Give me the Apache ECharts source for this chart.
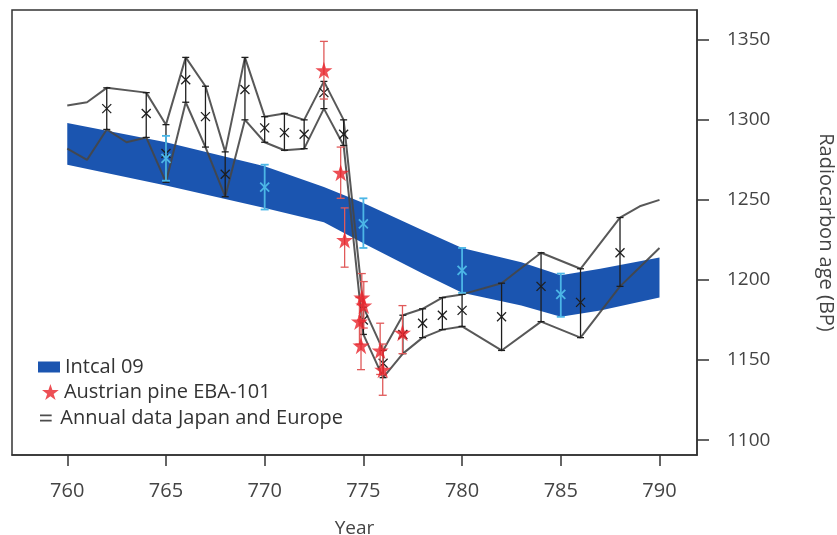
<!DOCTYPE html>
<html><head><meta charset="utf-8">
<script src="https://cdn.jsdelivr.net/npm/echarts@6/dist/echarts.min.js"></script>
<style>html,body{margin:0;padding:0;background:#fff}#c{width:837px;height:535px}</style>
</head><body><div id="c"></div>
<script>
// ---- tick labels ----
const xTicks = [760, 765, 770, 775, 780, 785, 790];
const yTicks = [1100, 1150, 1200, 1250, 1300, 1350];

// ---- Intcal 09 band ----
const bandYears = [760, 765, 770, 773, 775, 778, 780, 783, 785, 787, 790];
const bandUpper = [1298, 1286, 1271, 1258, 1248, 1231, 1220, 1211, 1203, 1207, 1214];
const bandLower = [1272, 1259, 1245, 1236, 1223, 1204, 1192, 1184, 1177, 1181, 1189];

// ---- Intcal 09 points (cyan) ----
const intcalYears = [765, 770, 775, 780, 785];
const intcalMid   = [1276, 1258, 1235, 1206, 1191];
const intcalLow   = [1262, 1244, 1220, 1192, 1177];
const intcalHigh  = [1290, 1272, 1251, 1220, 1204];

// ---- Annual data Japan and Europe: envelope lines ----
const upperYears = [760, 761, 762, 764, 765, 766, 767, 768, 769, 770, 771, 772, 773, 774, 775, 776, 777, 778, 779, 780, 782, 784, 786, 788, 789, 790];
const upperVals  = [1309, 1311, 1320, 1317, 1297, 1339, 1321, 1280, 1339, 1302, 1304, 1300, 1324, 1300, 1183, 1156, 1178, 1182, 1189, 1191, 1198, 1217, 1207, 1239, 1246, 1250];
const lowerYears = [760, 761, 762, 763, 764, 765, 766, 767, 768, 769, 770, 771, 772, 773, 774, 775, 776, 777, 778, 779, 780, 782, 784, 786, 788, 789, 790];
const lowerVals  = [1282, 1275, 1294, 1286, 1289, 1261, 1311, 1283, 1252, 1300, 1286, 1281, 1282, 1307, 1284, 1166, 1139, 1154, 1164, 1169, 1171, 1156, 1174, 1164, 1196, 1208, 1220];

// ---- Annual data: error bars with X markers ----
const annualYears = [762, 764, 765, 766, 767, 768, 769, 770, 771, 772, 773, 774, 775, 776, 777, 778, 779, 780, 782, 784, 786, 788];
const annualMid   = [1307, 1304, 1279, 1325, 1302, 1266, 1319, 1295, 1292, 1291, 1317, 1291, 1175, 1148, 1166, 1173, 1178, 1181, 1177, 1196, 1186, 1217];
const annualLow   = [1294, 1289, 1261, 1311, 1283, 1252, 1300, 1286, 1281, 1282, 1307, 1284, 1166, 1139, 1154, 1164, 1169, 1171, 1156, 1174, 1164, 1196];
const annualHigh  = [1320, 1317, 1297, 1339, 1321, 1280, 1339, 1302, 1304, 1300, 1324, 1300, 1183, 1156, 1178, 1182, 1189, 1191, 1198, 1217, 1207, 1239];

// ---- Austrian pine EBA-101 (red stars) ----
const pineYears = [773.0, 773.85, 774.05, 774.8, 774.92, 775.02, 774.88, 775.85, 775.98, 776.98];
const pineVals  = [1331, 1267, 1225, 1174, 1189, 1184, 1159, 1156, 1144, 1167];
const pineLow   = [1313, 1251, 1208, 1160, 1174, 1170, 1144, 1141, 1128, 1154];
const pineHigh  = [1349, 1283, 1245, 1189, 1204, 1199, 1175, 1173, 1160, 1184];

const FONT = 'Open Sans';
const BLUE = '#1b55b0';
const CYAN = '#4cb6e6';
const RED = '#e8232b';
const STAR = 'path://M50,0L61.2,34.5L97.6,34.5L68.2,55.9L79.4,90.5L50,69.1L20.6,90.5L31.8,55.9L2.4,34.5L38.8,34.5Z';

function errorBarRender(color, width, cap, withX) {
  return function (params, api) {
    const x = api.value(0);
    const lo = api.coord([x, api.value(1)]);
    const hi = api.coord([x, api.value(2)]);
    const mid = api.coord([x, api.value(3)]);
    const st = { stroke: color, lineWidth: width };
    const ch = [
      { type: 'line', shape: { x1: lo[0], y1: lo[1], x2: hi[0], y2: hi[1] }, style: st },
      { type: 'line', shape: { x1: lo[0] - cap, y1: lo[1], x2: lo[0] + cap, y2: lo[1] }, style: st },
      { type: 'line', shape: { x1: hi[0] - cap, y1: hi[1], x2: hi[0] + cap, y2: hi[1] }, style: st }
    ];
    if (withX) {
      const s = 4.5;
      ch.push({ type: 'line', shape: { x1: mid[0] - s, y1: mid[1] - s, x2: mid[0] + s, y2: mid[1] + s }, style: st });
      ch.push({ type: 'line', shape: { x1: mid[0] - s, y1: mid[1] + s, x2: mid[0] + s, y2: mid[1] - s }, style: st });
    }
    return { type: 'group', children: ch };
  };
}

const chart = echarts.init(document.getElementById('c'), null, { renderer: 'canvas' });
const legendText = { fontFamily: FONT, fontSize: 20, color: '#333' };
chart.setOption({
  animation: false,
  grid: { left: 12, right: 140, top: 10, bottom: 80, show: true, borderColor: '#333', borderWidth: 1.5, containLabel: false, outerBoundsMode: 'none' },
  xAxis: {
    type: 'value', min: 757.2, max: 791.9, position: 'bottom',
    name: 'Year', nameLocation: 'middle', nameGap: 64,
    nameTextStyle: { fontFamily: FONT, fontSize: 19, color: '#444' },
    axisLine: { show: true, lineStyle: { color: '#333', width: 1.5 } },
    axisTick: { show: true, inside: false, length: 11, customValues: xTicks, lineStyle: { color: '#333', width: 1.5 } },
    axisLabel: { customValues: xTicks, margin: 26, fontFamily: FONT, fontSize: 20, color: '#444', formatter: v => String(v) },
    splitLine: { show: false }
  },
  yAxis: {
    type: 'value', min: 1090.7, max: 1368.6, position: 'right',
    name: 'Radiocarbon age (BP)', nameLocation: 'middle', nameRotate: -90, nameGap: 119,
    nameTextStyle: { fontFamily: FONT, fontSize: 20, color: '#444' },
    axisLine: { show: true, lineStyle: { color: '#333', width: 1.5 } },
    axisTick: { show: true, inside: false, length: 12, customValues: yTicks, lineStyle: { color: '#333', width: 1.5 } },
    axisLabel: { customValues: yTicks, margin: 30, fontFamily: FONT, fontSize: 19, color: '#444', formatter: v => String(v) },
    splitLine: { show: false }
  },
  legend: [
    { data: [{ name: 'Intcal 09', icon: 'rect' }], left: 38, top: 357, padding: 0, itemWidth: 22, itemHeight: 11, textStyle: legendText, selectedMode: false },
    { data: [{ name: 'Austrian pine EBA-101', icon: STAR }], left: 42, top: 382, padding: 0, itemWidth: 17, itemHeight: 16, textStyle: legendText, selectedMode: false },
    { data: [{ name: 'Annual data Japan and Europe', icon: 'path://M0,0H10V1.6H0Z M0,4.4H10V6H0Z' }], left: 40, top: 408, padding: 0, itemWidth: 19, itemHeight: 7, textStyle: legendText, selectedMode: false }
  ],
  series: [
    {
      name: 'Intcal 09', type: 'custom', z: 1,
      itemStyle: { color: BLUE },
      data: bandYears.map((y, i) => [y, bandLower[i], bandUpper[i]]),
      renderItem: function (params, api) {
        if (params.dataIndex !== 0) return null;
        const pts = [];
        for (let i = 0; i < bandYears.length; i++) pts.push(api.coord([bandYears[i], bandUpper[i]]));
        for (let i = bandYears.length - 1; i >= 0; i--) pts.push(api.coord([bandYears[i], bandLower[i]]));
        return { type: 'polygon', shape: { points: pts }, style: { fill: BLUE } };
      }
    },
    {
      name: 'Annual data Japan and Europe', type: 'line', z: 3, showSymbol: false,
      color: '#4d4d4d',
      lineStyle: { color: 'rgba(70,70,70,0.9)', width: 2 },
      data: upperYears.map((y, i) => [y, upperVals[i]])
    },
    {
      name: 'Annual data Japan and Europe', type: 'line', z: 3, showSymbol: false,
      color: '#4d4d4d',
      lineStyle: { color: 'rgba(70,70,70,0.9)', width: 2 },
      data: lowerYears.map((y, i) => [y, lowerVals[i]])
    },
    {
      name: 'annualBars', type: 'custom', z: 4,
      data: annualYears.map((y, i) => [y, annualLow[i], annualHigh[i], annualMid[i]]),
      renderItem: errorBarRender('#1e1e1e', 1.3, 3.5, true)
    },
    {
      name: 'intcalBars', type: 'custom', z: 5,
      data: intcalYears.map((y, i) => [y, intcalLow[i], intcalHigh[i], intcalMid[i]]),
      renderItem: errorBarRender(CYAN, 1.8, 4, true)
    },
    {
      name: 'pineBars', type: 'custom', z: 6,
      data: pineYears.map((y, i) => [y, pineLow[i], pineHigh[i], pineVals[i]]),
      renderItem: errorBarRender('#e05a5a', 1.3, 4, false)
    },
    {
      name: 'Austrian pine EBA-101', type: 'scatter', z: 7,
      symbol: STAR, symbolSize: 17,
      itemStyle: { color: RED },
      data: pineYears.map((y, i) => [y, pineVals[i]])
    }
  ]
});
</script>
</body></html>
